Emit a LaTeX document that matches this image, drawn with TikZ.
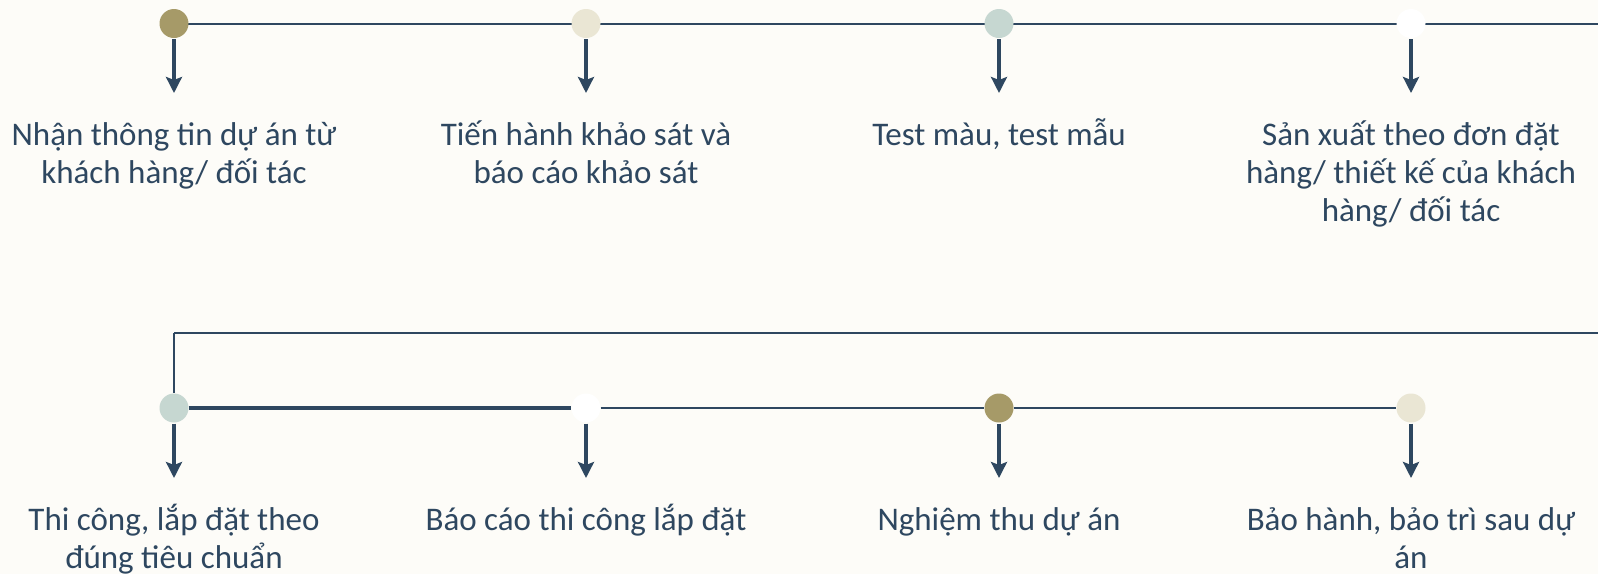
\documentclass[tikz,border=0pt]{standalone}
\usepackage{fontspec}
\setmainfont{Carlito}
\usetikzlibrary{arrows.meta}
\definecolor{bg}{HTML}{FDFCF8}
\definecolor{ink}{HTML}{2E4760}
\definecolor{olive}{HTML}{A69A68}
\definecolor{beige}{HTML}{EAE6D4}
\definecolor{sage}{HTML}{C6D7D1}
\newcommand{\fst}{\rule{0pt}{34pt}}
\tikzset{
  x=1pt, y=1pt,
  dot/.style={circle, minimum size=29pt, inner sep=0pt, draw=none},
  arr/.style={ink, line width=3.2pt, -{Stealth[length=16pt,width=16pt,inset=3pt]}},
  thin/.style={ink, line width=2pt},
  thick/.style={ink, line width=4pt},
  lbl/.style={anchor=north, align=center, inner sep=0pt, text=ink, font=\fontsize{33}{38}\selectfont}
}
\begin{document}
\begin{tikzpicture}
\fill[bg] (0,0) rectangle (1598,-574);
\useasboundingbox (0,0) rectangle (1598,-574);
% top row
\coordinate (tr) at (1598,-23.5);
\coordinate (br) at (1598,-332.5);
\coordinate (bl) at (174,-332.5);
\draw[thin] (174,-23.5) -- (tr);
\node[dot, fill=olive] (c1) at (174,-23.5) {};
\node[dot, fill=beige] (c2) at (586,-23.5) {};
\node[dot, fill=sage] (c3) at (999,-23.5) {};
\node[dot, fill=white] (c4) at (1411,-23.5) {};
% bottom row
\draw[thin] (br) -- (bl);
\node[dot, fill=sage] (c5) at (174,-408) {};
\node[dot, fill=white] (c6) at (586,-408) {};
\node[dot, fill=olive] (c7) at (999,-408) {};
\node[dot, fill=beige] (c8) at (1411,-408) {};
\draw[thin] (bl) -- (c5);
\draw[thick] (c5) -- (c6);
\draw[thin] (c6) -- (c7);
\draw[thin] (c7) -- (c8);
% arrow ends
\foreach \i/\x in {1/174,2/586,3/999,4/1411}{
  \coordinate (e\i) at (\x,-93);
}
\foreach \i/\x in {5/174,6/586,7/999,8/1411}{
  \coordinate (e\i) at (\x,-478);
}
% labels
\node[lbl] (t1) at (174,-111) {\fst Nhận thông tin dự án từ\\khách hàng/ đối tác};
\node[lbl] (t2) at (586,-111) {\fst Tiến hành khảo sát và\\báo cáo khảo sát};
\node[lbl] (t3) at (999,-111) {\fst Test màu, test mẫu};
\node[lbl] (t4) at (1411,-111) {\fst Sản xuất theo đơn đặt\\hàng/ thiết kế của khách\\hàng/ đối tác};
\node[lbl] (t5) at (174,-496) {\fst Thi công, lắp đặt theo\\đúng tiêu chuẩn};
\node[lbl] (t6) at (586,-496) {\fst Báo cáo thi công lắp đặt};
\node[lbl] (t7) at (999,-496) {\fst Nghiệm thu dự án};
\node[lbl] (t8) at (1411,-496) {\fst Bảo hành, bảo trì sau dự\\án};
% arrows
\foreach \i in {1,...,8}{
  \draw[arr] ([yshift=-1pt]c\i.south) -- (e\i);
}
\end{tikzpicture}
\end{document}
